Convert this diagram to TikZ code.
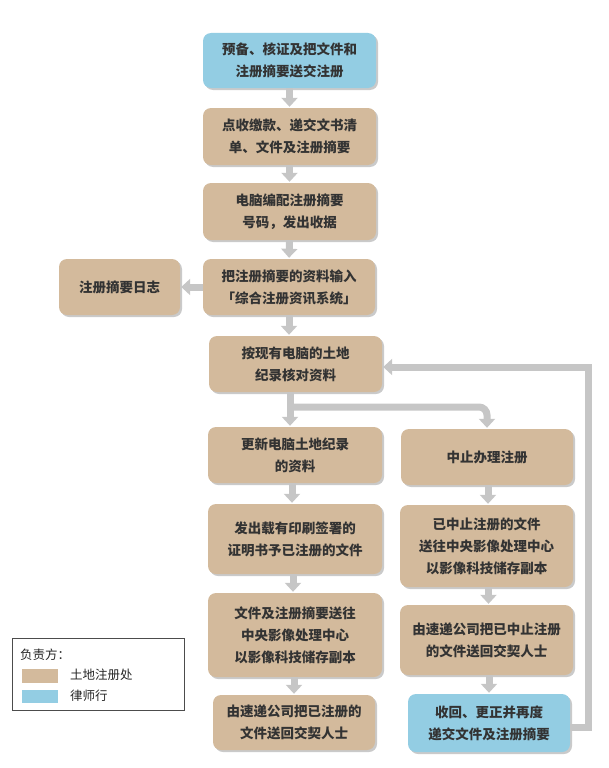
\documentclass[tikz,border=0pt]{standalone}
\usepackage{fontspec}
\setmainfont{Noto Sans CJK SC}
\usetikzlibrary{arrows.meta,shadows}
\definecolor{tan}{HTML}{D3BA9C}
\definecolor{sky}{HTML}{93CDE3}
\definecolor{arrgray}{HTML}{C6C6C6}
\definecolor{txt}{HTML}{333333}
\tikzset{
  box/.style={rectangle, rounded corners=8pt, fill=tan, inner sep=0pt, text=txt,
    align=center, font=\fontsize{13.5}{22}\selectfont\bfseries,
    drop shadow={shadow xshift=2pt, shadow yshift=-2pt, opacity=0.35, fill=black!60}},
  bluebox/.style={box, fill=sky},
  arr/.style={draw=arrgray, line width=7pt, -{Triangle[width=16pt,length=9pt]}, shorten >=1pt},
  line/.style={draw=arrgray, line width=7pt},
  legtxt/.style={anchor=west, inner sep=0pt, text=black!85, font=\fontsize{12.5}{14}\selectfont},
}
\begin{document}
\begin{tikzpicture}[x=1pt,y=-1pt]
\useasboundingbox (0,0) rectangle (608,768);
\node[bluebox, minimum width=173pt, minimum height=55pt] (b1) at (289.5,60.5) {预备、核证及把文件和\\注册摘要送交注册};
\node[box, minimum width=173pt, minimum height=57pt] (b2) at (289.5,136.5) {点收缴款、递交文书清\\单、文件及注册摘要};
\node[box, minimum width=173pt, minimum height=57pt] (b3) at (289.5,211.5) {电脑编配注册摘要\\号码，发出收据};
\node[box, minimum width=172pt, minimum height=56pt] (b4) at (289,287) {把注册摘要的资料输入\\「综合注册资讯系统」};
\node[box, minimum width=121pt, minimum height=56pt] (bl) at (119.5,287) {注册摘要日志};
\node[box, minimum width=173pt, minimum height=56pt] (b5) at (295.5,364) {按现有电脑的土地\\纪录核对资料};
\node[box, minimum width=174pt, minimum height=56pt] (b6) at (295,455) {更新电脑土地纪录\\的资料};
\node[box, minimum width=172pt, minimum height=56pt] (r1) at (487,457) {中止办理注册};
\node[box, minimum width=174pt, minimum height=70pt] (b7) at (295,539) {发出载有印刷签署的\\证明书予已注册的文件};
\node[box, minimum width=173pt, minimum height=82pt] (r2) at (486.5,546) {已中止注册的文件\\送往中央影像处理中心\\以影像科技储存副本};
\node[box, minimum width=174pt, minimum height=84pt] (b8) at (295,635) {文件及注册摘要送往\\中央影像处理中心\\以影像科技储存副本};
\node[box, minimum width=173pt, minimum height=70pt] (r3) at (486.5,640) {由速递公司把已中止注册\\的文件送回交契人士};
\node[box, minimum width=162pt, minimum height=55pt] (b9) at (294,722.5) {由速递公司把已注册的\\文件送回交契人士};
\node[bluebox, minimum width=162pt, minimum height=58pt] (r4) at (489,723) {收回、更正并再度\\递交文件及注册摘要};
% arrows
\draw[arr] (b1.south) -- (b2.north);
\draw[arr] (b2.south) -- (b3.north);
\draw[arr] (b3.south) -- (b4.north);
\draw[arr] (b4.west) -- (bl.east);
\draw[arr] (b4.south) -- (b4.south |- b5.north);
\coordinate (trunk) at (290,0);
\coordinate (split) at (290,407);
\draw[arr] (b5.south -| trunk) -- (b6.north -| trunk);
\draw[arr, rounded corners=8pt] (split) -- (split -| r1.north) -- (r1.north);
\draw[arr] ([xshift=-3pt]b6.south) -- ([xshift=-3pt]b6.south |- b7.north);
\draw[arr] ([xshift=-2pt]b7.south) -- ([xshift=-2pt]b7.south |- b8.north);
\draw[arr] (b8.south -| b9.north) -- (b9.north);
\draw[arr] ([xshift=1pt]r1.south) -- ([xshift=1pt]r1.south |- r2.north);
\draw[arr] ([xshift=2pt]r2.south) -- ([xshift=2pt]r2.south |- r3.north);
\draw[arr] (r3.south -| r4.north) -- (r4.north);
\coordinate (fbx) at (588,0);
\draw[arr] ([yshift=-4pt]r4.east) -- ([yshift=-4pt]r4.east -| fbx) -- ([yshift=-3pt]b5.east -| fbx) -- ([yshift=-3pt]b5.east);
% legend
\node[draw=black!70, line width=0.9pt, minimum width=172pt, minimum height=72pt, inner sep=0pt] (leg) at (98,674) {};
\node[legtxt] (legt) at (20,655) {负责方：};
\node[fill=tan, minimum width=36pt, minimum height=14pt, inner sep=0pt] (sw1) at (40,676) {};
\node[fill=sky, minimum width=36pt, minimum height=13pt, inner sep=0pt] (sw2) at (40,696.5) {};
\node[legtxt] (l1) at (70,675) {土地注册处};
\node[legtxt] (l2) at (70,696) {律师行};
\end{tikzpicture}
\end{document}
